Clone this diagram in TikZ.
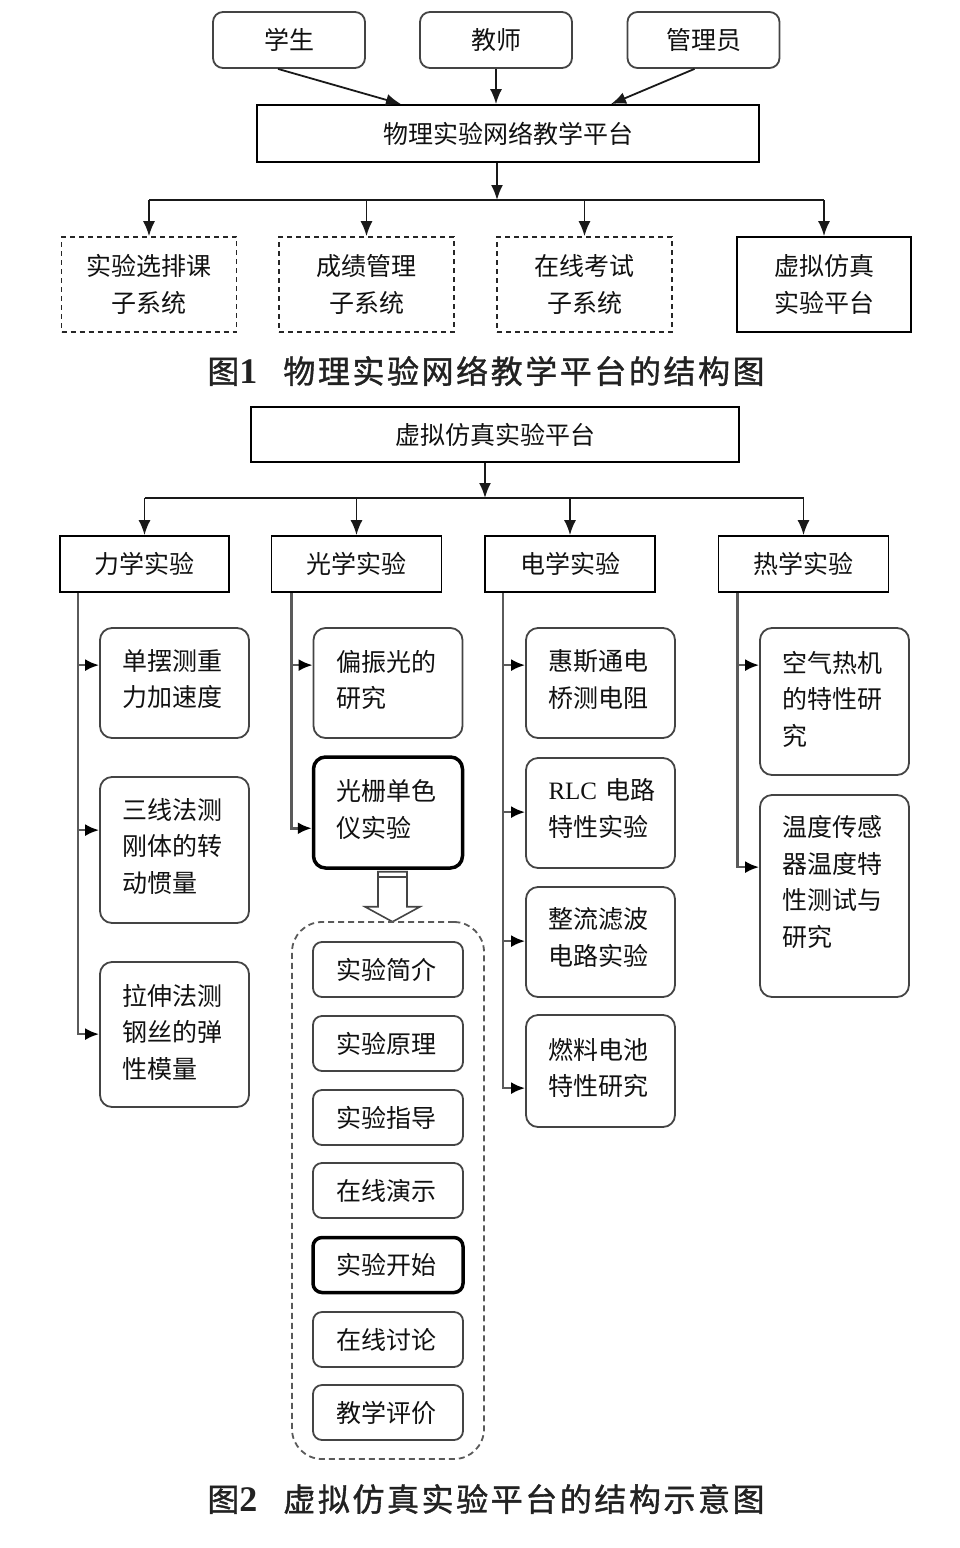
\documentclass[tikz,border=0pt]{standalone}
\usepackage{fontspec}
\setmainfont{Noto Sans CJK SC}
\newfontfamily\capfont[LetterSpace=8,FakeBold=1.2]{Noto Sans CJK SC}
\newfontfamily\numfont{Liberation Serif}
\usetikzlibrary{arrows.meta,calc}
\definecolor{boxline}{HTML}{444444}
\definecolor{trunkline}{HTML}{5A5A5A}
\definecolor{txt}{HTML}{111111}
\definecolor{captxt}{HTML}{222222}
\newcommand{\lift}[1]{\\[#1]\mbox{}}
\tikzset{
  basebox/.style={draw, inner sep=0pt, text=txt, font=\fontsize{25}{36.5}\selectfont},
  topbox/.style={basebox, draw=boxline, line width=1.8pt, rounded corners=10pt, minimum width=152pt, minimum height=56pt},
  platbox/.style={basebox, draw=black, line width=1.8pt},
  dashbox/.style={basebox, draw=black!85, line width=1.6pt, dash pattern=on 5pt off 4pt, minimum width=175pt, minimum height=95pt, align=center},
  solidbox/.style={basebox, draw=black, line width=1.8pt, minimum width=175pt, minimum height=95pt, align=center},
  catbox/.style={basebox, draw=black, line width=1.8pt, minimum height=56pt},
  expbox/.style={basebox, draw=boxline, line width=1.8pt, rounded corners=12pt, minimum width=149pt, text width=104pt, align=left},
  thickexp/.style={expbox, draw=black, line width=3.5pt},
  itembox/.style={basebox, draw=boxline, line width=1.8pt, rounded corners=9pt, minimum width=150pt, minimum height=55pt, text width=104pt, align=left},
  thickitem/.style={itembox, draw=black, line width=3.5pt},
  container/.style={draw=trunkline, line width=1.8pt, dash pattern=on 6pt off 4pt, rounded corners=30pt, minimum width=192pt, minimum height=537pt, inner sep=0pt},
  arr/.style={draw=black!90, line width=1.8pt, -{Latex[length=15pt,width=12pt]}},
  bus/.style={draw=black!90, line width=1.8pt},
  barr/.style={draw=trunkline, line width=2.6pt, -{Latex[length=14pt,width=12pt,color=black]}},
  caption/.style={text=captxt, font=\capfont\fontsize{32}{36}\selectfont, inner sep=0pt},
  hollow/.style={draw=boxline, line width=1.6pt, fill=white, line join=miter}
}
\begin{document}
\begin{tikzpicture}[x=1pt,y=-1pt]
\fill[white] (0,0) rectangle (960,1548);
\useasboundingbox (0,0) rectangle (960,1548);

% ---------------- Figure 1 ----------------
\node[topbox] (stu) at (289,40) {学生};
\node[topbox] (tea) at (496,40) {教师};
\node[topbox] (adm) at (703.5,40) {管理员};
\node[platbox, minimum width=502pt, minimum height=57pt] (plat) at (508,133.5) {物理实验网络教学平台};

\draw[arr] ($(stu.south)+(-11,0)$) -- ($(plat.north)+(-107,0)$);
\draw[arr] (tea.south) -- (tea.south |- plat.north);
\draw[arr] ($(adm.south)+(-9,0)$) -- ($(plat.north)+(103,0)$);

\node[dashbox] (sub1) at (149,284.5) {实验选排课\\子系统};
\node[dashbox] (sub2) at (366.5,284.5) {成绩管理\\子系统};
\node[dashbox] (sub3) at (584.5,284.5) {在线考试\\子系统};
\node[solidbox, minimum width=174pt] (sub4) at (824,284.5) {虚拟仿真\\实验平台};

\coordinate (bus1) at (497,200);
\draw[arr] (plat.south -| bus1) -- (bus1);
\draw[bus] (sub1.north |- bus1) -- (sub4.north |- bus1);
\foreach \n in {sub1,sub2,sub3,sub4}{
  \draw[arr] (\n.north |- bus1) -- (\n.north);
}

\node[caption] (cap1) at (486,371) {图{\numfont\bfseries\fontsize{36}{36}\selectfont 1}\hspace{26pt}物理实验网络教学平台的结构图};

% ---------------- Figure 2 ----------------
\node[platbox, minimum width=488pt, minimum height=55pt] (vp) at (495,434.5) {虚拟仿真实验平台};
\coordinate (bus2) at (485,498);
\draw[arr] (vp.south -| bus2) -- (bus2);

\node[catbox, minimum width=169pt] (mech) at (144.5,564) {力学实验};
\node[catbox, minimum width=170pt] (opt) at (356.5,564) {光学实验};
\node[catbox, minimum width=170pt] (ele) at (570,564) {电学实验};
\node[catbox, minimum width=170pt] (heat) at (803.5,564) {热学实验};

\draw[bus] (mech.north |- bus2) -- (heat.north |- bus2);
\foreach \n in {mech,opt,ele,heat}{
  \draw[arr] (\n.north |- bus2) -- (\n.north);
}

% mechanics column
\node[expbox, minimum height=110pt] (m1) at (174.5,683) {单摆测重\\力加速度\lift{-27pt}};
\node[expbox, minimum height=146pt] (m2) at (174.5,850) {三线法测\\刚体的转\\动惯量\lift{-27pt}};
\node[expbox, minimum height=145pt] (m3) at (174.5,1034.5) {拉伸法测\\钢丝的弹\\性模量\lift{-30pt}};

% optics column
\node[expbox, minimum height=110pt] (o1) at (388,683) {偏振光的\\研究\lift{-28pt}};
\node[thickexp, minimum height=111pt] (o2) at (388,812.5) {光栅单色\\仪实验\lift{-28pt}};

% electricity column
\node[expbox, minimum height=110pt] (e1) at (600.5,683) {惠斯通电\\桥测电阻\lift{-28pt}};
\node[expbox, minimum height=110pt] (e2) at (600.5,813) {\mbox{{\numfont RLC} 电路}\\特性实验\lift{-25pt}};
\node[expbox, minimum height=110pt] (e3) at (600.5,942) {整流滤波\\电路实验\lift{-25pt}};
\node[expbox, minimum height=112pt] (e4) at (600.5,1071) {燃料电池\\特性研究\lift{-28pt}};

% heat column
\node[expbox, minimum height=147pt] (h1) at (834.5,701.5) {空气热机\\的特性研\\究\lift{-30pt}};
\node[expbox, minimum height=202pt] (h2) at (834.5,896) {温度传感\\器温度特\\性测试与\\研究\lift{-6pt}};

% trunks and branch arrows
\coordinate (mT) at ($(mech.south west)+(19,0)$);
\coordinate (oT) at ($(opt.south west)+(21,0)$);
\coordinate (eT) at ($(ele.south west)+(19,0)$);
\coordinate (hT) at ($(heat.south west)+(20,0)$);

\coordinate (pm1) at ($(m1.north west)+(0,38)$);
\coordinate (pm2) at ($(m2.north west)+(0,54)$);
\coordinate (pm3) at ($(m3.north west)+(0,73)$);
\coordinate (po1) at ($(o1.north west)+(0,38)$);
\coordinate (po2) at ($(o2.north west)+(0,73)$);
\coordinate (pe1) at ($(e1.north west)+(0,38)$);
\coordinate (pe2) at ($(e2.north west)+(0,55)$);
\coordinate (pe3) at ($(e3.north west)+(0,55)$);
\coordinate (pe4) at ($(e4.north west)+(0,74)$);
\coordinate (ph1) at ($(h1.north west)+(0,38)$);
\coordinate (ph2) at ($(h2.north west)+(0,73)$);

\draw[barr] (mT) |- (pm3);
\draw[barr] (mT |- pm1) -- (pm1);
\draw[barr] (mT |- pm2) -- (pm2);

\draw[barr] (oT) |- (po2);
\draw[barr] (oT |- po1) -- (po1);

\draw[barr] (eT) |- (pe4);
\draw[barr] (eT |- pe1) -- (pe1);
\draw[barr] (eT |- pe2) -- (pe2);
\draw[barr] (eT |- pe3) -- (pe3);

\draw[barr] (hT) |- (ph2);
\draw[barr] (hT |- ph1) -- (ph1);

% hollow arrow and container
\coordinate (ha) at ($(o2.south)+(4.5,2)$);
\begin{scope}[shift={(ha)}]
  \draw[hollow] (-14.5,0) -- (-14.5,35) -- (-27.5,35) -- (0,50) -- (27.5,35) -- (14.5,35) -- (14.5,0) -- cycle;
  \draw[hollow] (-14.5,5) -- (14.5,5);
\end{scope}

\node[container] (cont) at (388,1190.5) {};

\node[itembox] (i1) at (388,969.5) {实验简介};
\node[itembox] (i2) at (388,1043.5) {实验原理};
\node[itembox] (i3) at (388,1117.5) {实验指导};
\node[itembox] (i4) at (388,1190.5) {在线演示};
\node[thickitem] (i5) at (388,1265) {实验开始};
\node[itembox] (i6) at (388,1339.5) {在线讨论};
\node[itembox] (i7) at (388,1412.5) {教学评价};

\node[caption] (cap2) at (486,1499) {图{\numfont\bfseries\fontsize{36}{36}\selectfont 2}\hspace{26pt}虚拟仿真实验平台的结构示意图};
\end{tikzpicture}
\end{document}
